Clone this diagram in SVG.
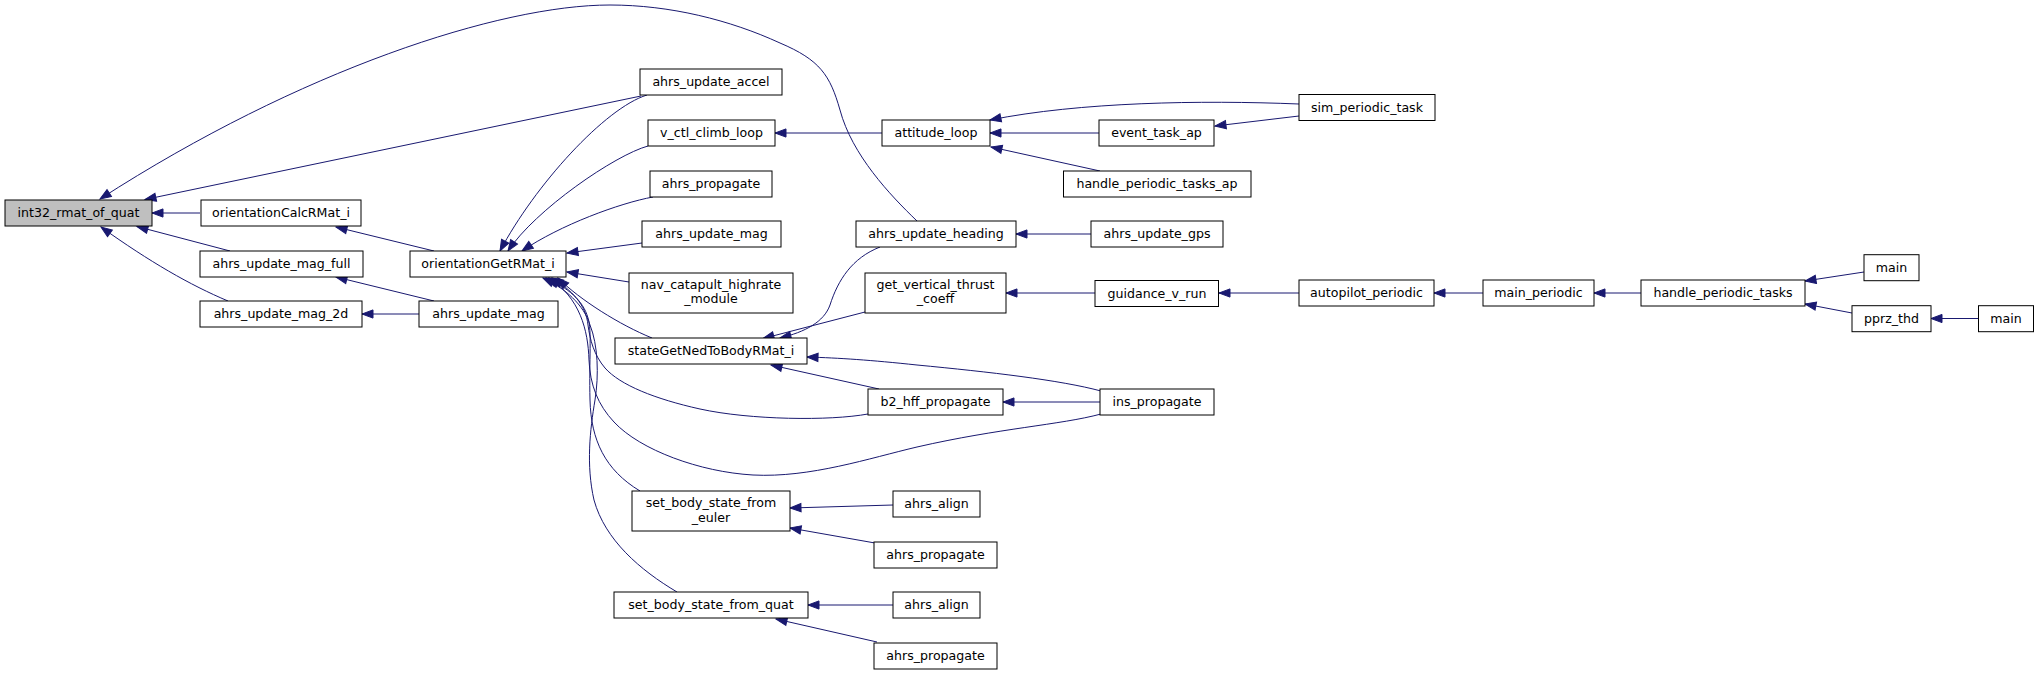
<svg xmlns="http://www.w3.org/2000/svg" width="2039" height="675" viewBox="0 0 2039 675">
<style>
.n rect{fill:#fff;stroke:#000;stroke-width:1}
.root rect{fill:#bfbfbf}
.n text{font-family:"DejaVu Sans","Liberation Sans",sans-serif;font-size:12.6px;text-anchor:middle;fill:#000}
.e path{fill:none;stroke:#191970;stroke-width:1;marker-end:url(#ah)}
</style>
<defs>
<marker id="ah" markerWidth="14" markerHeight="10" viewBox="0 0 14 10" refX="12" refY="5" orient="auto" markerUnits="userSpaceOnUse" overflow="visible">
<path d="M1,0.9 L12,5 L1,9.1 z" fill="#191970" stroke="#191970" stroke-width="1"/>
</marker>
</defs>
<rect width="2039" height="675" fill="#fff"/>
<g class="e" id="connectors">
<path d="M200,213 L152,213"/>
<path d="M230,251 L137,226.5"/>
<path d="M228,301 C190,285 150,262 101,227"/>
<path d="M641,96 L145,199.5"/>
<path d="M917,221 C890,195 852,155 840,110 C830,75 820,60 780,43 C730,20 670,5 610,5 C500,5 300,70 100,199"/>
<path d="M434,251 L336,227"/>
<path d="M434,301 L336,277"/>
<path d="M419,314 L362,314"/>
<path d="M647,95 C605,108 535,185 500,251"/>
<path d="M648,146 C615,155 535,210 508,251"/>
<path d="M653,197 C620,203 560,225 522,251"/>
<path d="M642,243 L567,253"/>
<path d="M629,282 L567,272"/>
<path d="M652,338 C620,325 580,300 558,278"/>
<path d="M868,414 C830,421 750,420 700,409 C655,399 620,385 605,368 C594,355 590,340 588,325 C586,305 572,290 552,278"/>
<path d="M1101,414 C1060,425 1000,428 917,447 C870,458 810,478 753,475 C700,472 640,450 614,422 C598,405 590,385 589,360 C588,330 580,298 549,278"/>
<path d="M640,491 C605,470 591,440 590,400 C589,360 592,330 588,318 C583,300 568,288 546,278"/>
<path d="M677,592 C640,570 605,540 594,500 C586,465 590,430 595,400 C599,375 598,345 590,325 C584,305 565,288 543,278"/>
<path d="M882,133 L775,133"/>
<path d="M1299,104 C1200,100 1080,102 990,120"/>
<path d="M1099,133 L990,133"/>
<path d="M1100,171 L991,147"/>
<path d="M1299,116 L1215,126"/>
<path d="M1091,234 L1016,234"/>
<path d="M880,247 C852,258 838,280 830,305 C824,322 805,332 780,338"/>
<path d="M865,312 L763,338.5"/>
<path d="M879,389 L771,365"/>
<path d="M1101,391 C1060,380 990,372 917,365 C870,360 840,358 807,357"/>
<path d="M1100,402 L1003,402"/>
<path d="M1095,293 L1006,293"/>
<path d="M1299,293 L1219,293"/>
<path d="M1483,293 L1434,293"/>
<path d="M1641,293 L1594,293"/>
<path d="M1864,272 L1805,281"/>
<path d="M1852,313 L1805,304"/>
<path d="M1978,318.5 L1931,318.5"/>
<path d="M893,505 L790,508"/>
<path d="M875,543 L790,528"/>
<path d="M893,605 L808,605"/>
<path d="M877,642 L776,619"/>
</g>
<g class="n root" id="int32_rmat_of_quat"><rect x="5" y="200" width="147" height="26"/><text x="78.5" y="217.3">int32_rmat_of_quat</text></g>
<g class="n" id="orientationCalcRMat_i"><rect x="201" y="200" width="160" height="26"/><text x="281" y="217.3">orientationCalcRMat_i</text></g>
<g class="n" id="ahrs_update_mag_full"><rect x="200" y="251" width="163" height="26"/><text x="281.5" y="268.3">ahrs_update_mag_full</text></g>
<g class="n" id="ahrs_update_mag_2d"><rect x="200" y="301" width="162" height="26"/><text x="281" y="318.3">ahrs_update_mag_2d</text></g>
<g class="n" id="orientationGetRMat_i"><rect x="410" y="251" width="156" height="26"/><text x="488" y="268.3">orientationGetRMat_i</text></g>
<g class="n" id="ahrs_update_mag_a"><rect x="419" y="301" width="139" height="26"/><text x="488.5" y="318.3">ahrs_update_mag</text></g>
<g class="n" id="ahrs_update_accel"><rect x="640" y="69" width="142" height="26"/><text x="711" y="86.3">ahrs_update_accel</text></g>
<g class="n" id="v_ctl_climb_loop"><rect x="648" y="120" width="127" height="26"/><text x="711.5" y="137.3">v_ctl_climb_loop</text></g>
<g class="n" id="ahrs_propagate_a"><rect x="650" y="171" width="122" height="26"/><text x="711" y="188.3">ahrs_propagate</text></g>
<g class="n" id="ahrs_update_mag_b"><rect x="642" y="221" width="139" height="26"/><text x="711.5" y="238.3">ahrs_update_mag</text></g>
<g class="n" id="nav_catapult_highrate_module"><rect x="629" y="273" width="164" height="40"/><text x="711" y="288.7">nav_catapult_highrate</text><text x="711" y="302.7">_module</text></g>
<g class="n" id="stateGetNedToBodyRMat_i"><rect x="615" y="338" width="192" height="26"/><text x="711" y="355.3">stateGetNedToBodyRMat_i</text></g>
<g class="n" id="set_body_state_from_euler"><rect x="632" y="491" width="158" height="40"/><text x="711" y="507.3">set_body_state_from</text><text x="711" y="521.5">_euler</text></g>
<g class="n" id="set_body_state_from_quat"><rect x="614" y="592" width="194" height="26"/><text x="711" y="609.3">set_body_state_from_quat</text></g>
<g class="n" id="attitude_loop"><rect x="882" y="120" width="108" height="26"/><text x="936" y="137.3">attitude_loop</text></g>
<g class="n" id="ahrs_update_heading"><rect x="856" y="221" width="160" height="26"/><text x="936" y="238.3">ahrs_update_heading</text></g>
<g class="n" id="get_vertical_thrust_coeff"><rect x="865" y="273" width="141" height="40"/><text x="935.5" y="288.7">get_vertical_thrust</text><text x="935.5" y="302.7">_coeff</text></g>
<g class="n" id="b2_hff_propagate"><rect x="868" y="389" width="135" height="26"/><text x="935.5" y="406.3">b2_hff_propagate</text></g>
<g class="n" id="ahrs_align_a"><rect x="893" y="491" width="87" height="26"/><text x="936.5" y="508.3">ahrs_align</text></g>
<g class="n" id="ahrs_propagate_b"><rect x="874" y="542" width="123" height="26"/><text x="935.5" y="559.3">ahrs_propagate</text></g>
<g class="n" id="ahrs_align_b"><rect x="893" y="592" width="87" height="26"/><text x="936.5" y="609.3">ahrs_align</text></g>
<g class="n" id="ahrs_propagate_c"><rect x="874" y="643" width="123" height="26"/><text x="935.5" y="660.3">ahrs_propagate</text></g>
<g class="n" id="event_task_ap"><rect x="1099" y="120" width="115" height="26"/><text x="1156.5" y="137.3">event_task_ap</text></g>
<g class="n" id="handle_periodic_tasks_ap"><rect x="1063.5" y="171" width="187.5" height="26"/><text x="1157" y="188.3">handle_periodic_tasks_ap</text></g>
<g class="n" id="ahrs_update_gps"><rect x="1091" y="221" width="132" height="26"/><text x="1157" y="238.3">ahrs_update_gps</text></g>
<g class="n" id="guidance_v_run"><rect x="1095" y="280.5" width="123.5" height="26"/><text x="1157" y="297.8">guidance_v_run</text></g>
<g class="n" id="ins_propagate"><rect x="1100" y="389" width="114" height="26"/><text x="1157" y="406.3">ins_propagate</text></g>
<g class="n" id="sim_periodic_task"><rect x="1299" y="94.5" width="136" height="26"/><text x="1367" y="111.8">sim_periodic_task</text></g>
<g class="n" id="autopilot_periodic"><rect x="1299" y="280" width="135" height="26"/><text x="1366.5" y="297.3">autopilot_periodic</text></g>
<g class="n" id="main_periodic"><rect x="1483" y="280" width="111" height="26"/><text x="1538.5" y="297.3">main_periodic</text></g>
<g class="n" id="handle_periodic_tasks"><rect x="1641" y="280" width="164" height="26"/><text x="1723" y="297.3">handle_periodic_tasks</text></g>
<g class="n" id="main_a"><rect x="1864" y="254.7" width="55" height="26"/><text x="1891.5" y="272">main</text></g>
<g class="n" id="pprz_thd"><rect x="1852" y="305.7" width="79" height="26"/><text x="1891.5" y="323">pprz_thd</text></g>
<g class="n" id="main_b"><rect x="1978.5" y="305.7" width="55" height="26"/><text x="2006" y="323">main</text></g>
</svg>
